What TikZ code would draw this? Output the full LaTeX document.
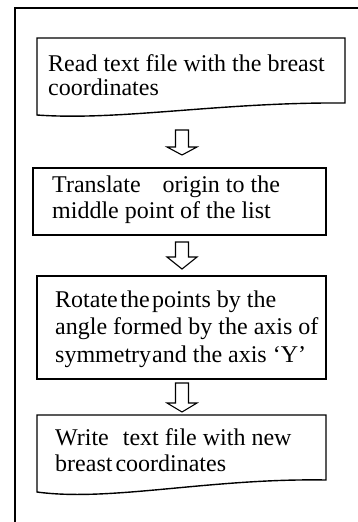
\documentclass[tikz,border=0pt]{standalone}
\usepackage{fontspec}
\setmainfont{Liberation Serif}
\usepackage{tikz}
\usetikzlibrary{calc}

\tikzset{
  boxline/.style = {line width = 1.4pt, line join = miter},
  arrowline/.style = {line width = 1.1pt, line join = miter},
  steptext/.style = {anchor = north west, inner sep = 0pt, align = left,
    font = \fontsize{24}{26}\selectfont}
}

\begin{document}
\begin{tikzpicture}[x = 1pt, y = -1pt]

\useasboundingbox (0, 0) rectangle (358, 522);

% outer frame
\draw[line width = 1.3pt] (15, 522) -- (15, 8) -- (358, 8);

% boxes
\draw[boxline] (37, 115) -- (37, 38) -- (345, 38) -- (345, 103) .. controls (220, 102) and (120, 121) .. cycle;
\draw[boxline] (33, 168) rectangle (326, 235);
\draw[boxline] (37, 276) rectangle (326, 379);
\draw[boxline] (37, 492) -- (37, 415) -- (326, 415) -- (326, 480) .. controls (210, 478) and (110, 502) .. cycle;

% texts
\node[steptext, font = \fontsize{24}{24}\selectfont] (read) at (48, 54.6) {Read text file with the breast\\coordinates};
\node[steptext] (translate) at (52, 175.6) {Translate\hspace{22pt}origin to the\\middle point of the list};
\node[steptext, font = \fontsize{24}{27.5}\selectfont] (rotate) at (55, 290.6) {Rotate\hspace{2.5pt}the\hspace{2.5pt}points by the\\angle formed by the axis of\\symmetry\hspace{1pt}and the axis ‘Y’};
\node[steptext] (write) at (55, 428.6) {Write\hspace{14pt}text file with new\\breast\hspace{3pt}coordinates};

% hollow arrows
\foreach \ytop/\yhead/\ytip in {130/147/155, 242/257/269, 383/403/412}{
  \draw[arrowline] (175.5, \ytop) -- (175.5, \yhead) -- (167, \yhead) -- (182, \ytip) -- (197, \yhead) -- (188.5, \yhead) -- (188.5, \ytop) -- cycle;
}

\end{tikzpicture}
\end{document}
